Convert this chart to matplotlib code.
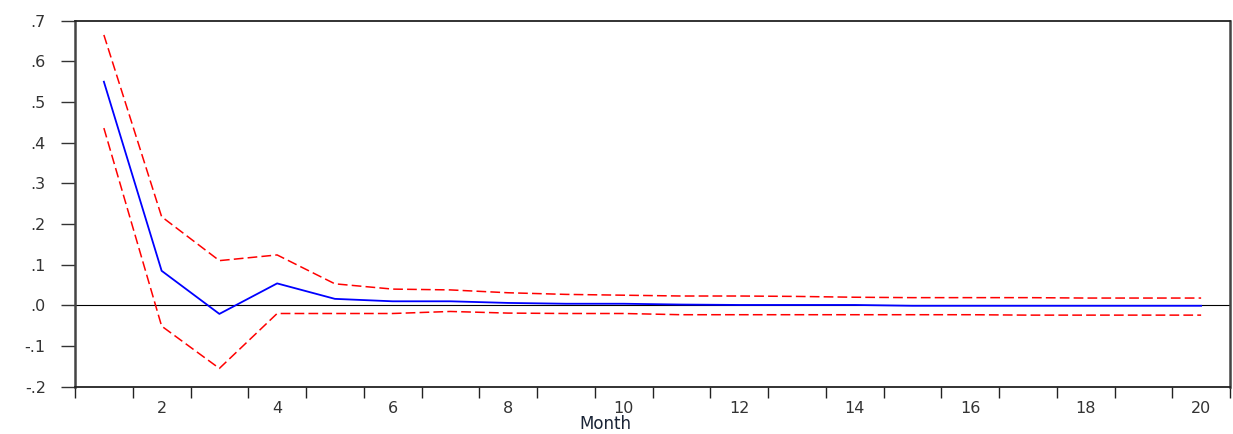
import matplotlib
matplotlib.use("Agg")
import matplotlib.pyplot as plt
import numpy as np

plt.rcParams['font.family'] = ['DejaVu Sans']
plt.rcParams['lines.scale_dashes'] = False

months = list(range(1, 21))
response = [0.550, 0.085, -0.021, 0.054, 0.016, 0.010, 0.010, 0.006, 0.004, 0.004,
            0.002, 0.001, 0.001, 0.001, -0.001, -0.001, -0.001, -0.001, -0.001, -0.001]
upper = [0.665, 0.218, 0.110, 0.124, 0.053, 0.040, 0.038, 0.031, 0.027, 0.025,
         0.023, 0.023, 0.022, 0.020, 0.019, 0.019, 0.019, 0.018, 0.018, 0.018]
lower = [0.436, -0.051, -0.155, -0.020, -0.020, -0.020, -0.015, -0.019, -0.020, -0.020,
         -0.023, -0.023, -0.023, -0.023, -0.023, -0.023, -0.024, -0.024, -0.024, -0.024]
y_ticks = [-0.2, -0.1, 0.0, 0.1, 0.2, 0.3, 0.4, 0.5, 0.6, 0.7]
y_labels = ['-.2', '-.1', '.0', '.1', '.2', '.3', '.4', '.5', '.6', '.7']
x_labels = [2, 4, 6, 8, 10, 12, 14, 16, 18, 20]

fig = plt.figure(figsize=(12.33, 4.34), dpi=100)
ax = fig.add_axes([75/1233, 1 - 386.7/434, (1230 - 75)/1233, (386.7 - 20.7)/434])

ax.axhline(0, color='black', lw=0.8, zorder=1)
ax.plot(months, upper, color='#ff0000', lw=1.1, dashes=(7, 3), zorder=2)
ax.plot(months, lower, color='#ff0000', lw=1.1, dashes=(7, 3), zorder=2)
ax.plot(months, response, color='#0000ff', lw=1.3, zorder=3)

ax.set_xlim(0.5, 20.5)
ax.set_ylim(-0.2, 0.7)

ax.set_yticks(y_ticks)
ax.set_yticklabels(y_labels)
ax.set_xticks(x_labels)
ax.set_xticklabels([str(v) for v in x_labels])
ax.set_xticks(np.arange(0.5, 20.6, 1.0), minor=True)

ax.tick_params(axis='y', direction='out', length=10, width=1.0, pad=11,
               labelsize=11.5, labelcolor='#333333', colors='#333333')
ax.tick_params(axis='x', which='major', length=0, pad=10,
               labelsize=11.5, labelcolor='#333333')
ax.tick_params(axis='x', which='minor', direction='out', length=8, width=1.0,
               color='#222222')

for side in ['left', 'right']:
    ax.spines[side].set_linewidth(1.8)
    ax.spines[side].set_color('#444444')
for side in ['top', 'bottom']:
    ax.spines[side].set_linewidth(1.3)
    ax.spines[side].set_color('#222222')

fig.text(605/1233, 1 - 424/434, 'Month', ha='center', va='center',
         fontsize=12, color='#1a2436')

fig.savefig('out.png', dpi=100)
